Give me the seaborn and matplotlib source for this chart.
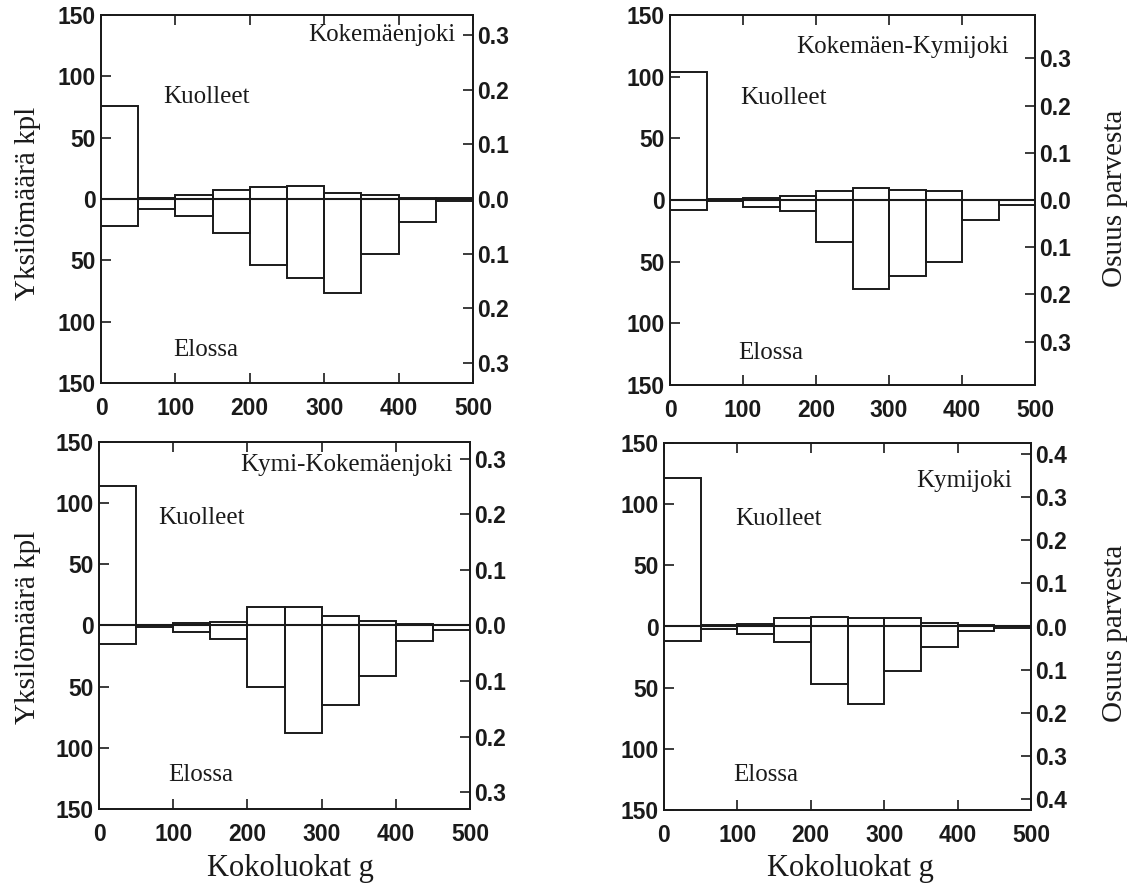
import numpy as np
import pandas as pd
import matplotlib
matplotlib.use("Agg")
import matplotlib.pyplot as plt
import seaborn as sns
from matplotlib.ticker import FixedLocator, FuncFormatter

# ---------------- data ----------------
bin_edges = [0, 50, 100, 150, 200, 250, 300, 350, 400, 450, 500]
bin_centers = [25, 75, 125, 175, 225, 275, 325, 375, 425, 475]

panel_titles = ["Kokemäenjoki", "Kokemäen-Kymijoki", "Kymi-Kokemäenjoki", "Kymijoki"]

# dead ("Kuolleet", drawn upward) and alive ("Elossa", drawn downward), individuals per 50 g class
dead_kokemaenjoki = [76, 1, 3, 7, 10, 11, 5, 3, 1, 1]
alive_kokemaenjoki = [22, 8, 14, 28, 54, 64, 77, 45, 19, 2]

dead_kokemaen_kymijoki = [104, 1, 2, 3, 7, 10, 8, 7, 0, 0]
alive_kokemaen_kymijoki = [8, 1, 6, 9, 34, 72, 62, 50, 16, 4]

dead_kymi_kokemaenjoki = [114, 0, 2, 3, 15, 15, 8, 4, 1, 0]
alive_kymi_kokemaenjoki = [15, 1, 5, 11, 50, 88, 65, 41, 13, 4]

dead_kymijoki = [121, 1, 2, 7, 8, 7, 7, 3, 1, 0]
alive_kymijoki = [12, 2, 6, 13, 47, 63, 36, 17, 4, 1]

dead_series = [dead_kokemaenjoki, dead_kokemaen_kymijoki, dead_kymi_kokemaenjoki, dead_kymijoki]
alive_series = [alive_kokemaenjoki, alive_kokemaen_kymijoki, alive_kymi_kokemaenjoki, alive_kymijoki]

# right axis: share of shoal (individuals corresponding to a share of 1.0)
shoal_sizes = [446, 383, 454, 352]
share_ticks = [
    [-0.3, -0.2, -0.1, 0.0, 0.1, 0.2, 0.3],
    [-0.3, -0.2, -0.1, 0.0, 0.1, 0.2, 0.3],
    [-0.3, -0.2, -0.1, 0.0, 0.1, 0.2, 0.3],
    [-0.4, -0.3, -0.2, -0.1, 0.0, 0.1, 0.2, 0.3, 0.4],
]
count_ticks = [-150, -100, -50, 0, 50, 100, 150]
x_ticks = [0, 100, 200, 300, 400, 500]

# ---------------- style ----------------
sns.set_style("ticks")
plt.rcParams["font.family"] = ["Liberation Sans", "DejaVu Sans"]
SERIF = ["Liberation Serif", "DejaVu Serif"]
INK = "#1a1a1a"

W, H = 1140, 896
fig = plt.figure(figsize=(W / 100, H / 100), dpi=100)
fig.patch.set_facecolor("white")

# axes boxes in pixels: left, top, right, bottom
boxes = [
    (101, 15, 473, 383),
    (670, 15, 1035, 385),
    (99, 442, 470, 809),
    (664, 443, 1031, 810),
]

# text positions (data coords)
title_pos = [(476, 134), (464, 124), (477, 131), (474, 119)]
kuolleet_pos = [(83, 83), (96, 83), (80, 88), (97, 88)]
elossa_pos = [(97, -123), (93, -124), (93, -122), (94, -121)]

abs_fmt_int = FuncFormatter(lambda v, p: f"{abs(v):.0f}")
abs_fmt_dec = FuncFormatter(lambda v, p: f"{abs(v):.1f}")

for i in range(4):
    l, t, r, b = boxes[i]
    ax = fig.add_axes([l / W, 1 - b / H, (r - l) / W, (b - t) / H])
    ax.set_facecolor("white")

    sns.histplot(x=bin_centers, weights=dead_series[i], bins=bin_edges,
                 element="bars", fill=False, color=INK, linewidth=1.4, ax=ax)
    sns.histplot(x=bin_centers, weights=[-v for v in alive_series[i]], bins=bin_edges,
                 element="bars", fill=False, color=INK, linewidth=1.4, ax=ax)
    ax.axhline(0, color=INK, linewidth=1.5)

    ax.set_xlim(0, 500)
    ax.set_ylim(-150, 150)
    ax.set_xlabel("")
    ax.set_ylabel("")
    ax.yaxis.set_major_locator(FixedLocator(count_ticks))
    ax.yaxis.set_major_formatter(abs_fmt_int)
    ax.xaxis.set_major_locator(FixedLocator(x_ticks))
    ax.tick_params(axis="both", direction="in", length=7, width=1.2, colors=INK,
                   labelsize=16.5, top=True, right=False)
    ax.tick_params(axis="x", pad=10)
    ax.tick_params(axis="y", pad=4)
    for lab in ax.get_xticklabels() + ax.get_yticklabels():
        lab.set_fontweight("bold")
    for s in ax.spines.values():
        s.set_visible(True)
        s.set_color(INK)
        s.set_linewidth(1.3)

    tw = ax.twinx()
    lim = 150 / shoal_sizes[i]
    tw.set_ylim(-lim, lim)
    tw.yaxis.set_major_locator(FixedLocator(share_ticks[i]))
    tw.yaxis.set_major_formatter(abs_fmt_dec)
    tw.tick_params(axis="y", direction="in", length=7, width=1.2, colors=INK,
                   labelsize=16.5, pad=3)
    for lab in tw.get_yticklabels():
        lab.set_fontweight("bold")
    for s in tw.spines.values():
        s.set_visible(True)
        s.set_color(INK)
        s.set_linewidth(1.3)

    ax.text(title_pos[i][0], title_pos[i][1], panel_titles[i], ha="right", va="center",
            family=SERIF, fontsize=18, color=INK)
    ax.text(kuolleet_pos[i][0], kuolleet_pos[i][1], "Kuolleet", ha="left", va="center",
            family=SERIF, fontsize=18, color=INK)
    ax.text(elossa_pos[i][0], elossa_pos[i][1], "Elossa", ha="left", va="center",
            family=SERIF, fontsize=18, color=INK)

# outer labels
for yc in (203, 627):
    fig.text(28 / W, 1 - yc / H, "Yksilömäärä kpl", rotation=90, ha="center", va="center",
             family=SERIF, fontsize=21, color=INK)
for yc in (198, 633):
    fig.text(1115 / W, 1 - yc / H, "Osuus parvesta", rotation=90, ha="center", va="center",
             family=SERIF, fontsize=21, color=INK)
for xc in (290, 850):
    fig.text(xc / W, 1 - 868 / H, "Kokoluokat g", ha="center", va="center",
             family=SERIF, fontsize=22, color=INK)

fig.savefig("out.png", dpi=100, facecolor="white")
